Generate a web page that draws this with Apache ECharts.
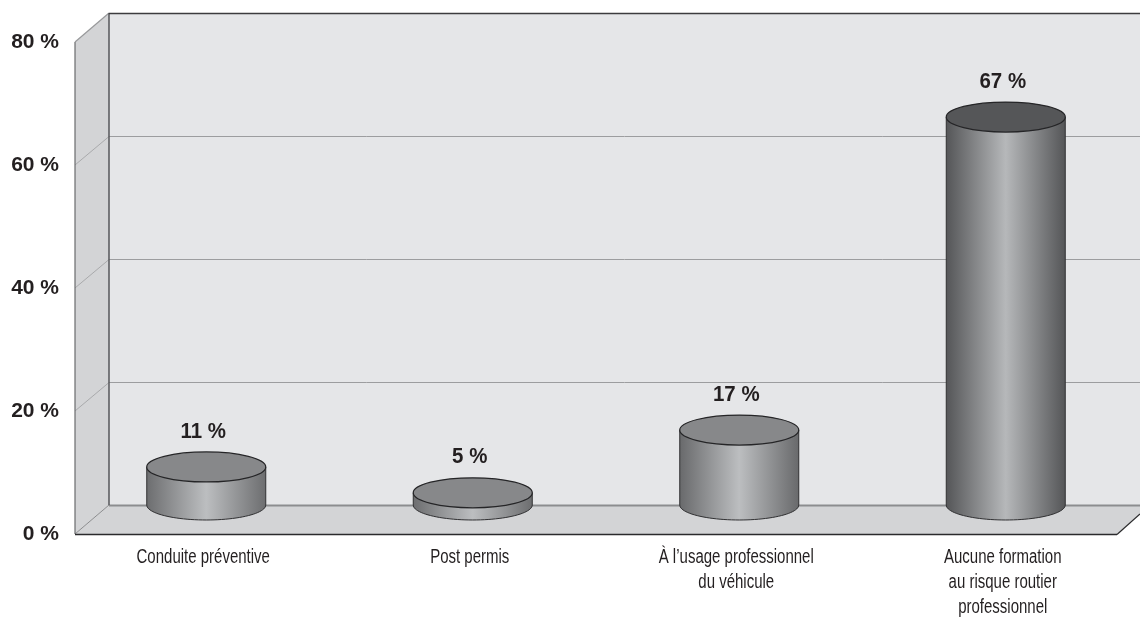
<!DOCTYPE html>
<html><head><meta charset="utf-8">
<style>html,body{margin:0;padding:0;background:#fff}#c{width:1140px;height:617px}</style>
<script src="https://cdn.jsdelivr.net/npm/echarts@6/dist/echarts.min.js"></script>
</head><body><div id="c"></div>
<script>
const categories = ['Conduite préventive','Post permis','À l’usage professionnel\ndu véhicule','Aucune formation\nau risque routier\nprofessionnel'];
const values = [11,5,17,67];
const cylinderTops = [10.9,6.7,16.9,67.8];
const yTicks = [0,20,40,60,80];
const topShades = ['#87888a','#87888a','#87888a','#555658'];
const edgeShades = ['#6c6d6f','#6c6d6f','#68696b','#545557'];
const centerShades = ['#bcbec0','#bcbec0','#bcbec0','#b6b8ba'];

const depthX = 34, depthY = -29, wallRight = 1140, floorFrontRight = 1117, frontLeft = 75;
const rx = 59.5, ry = 15;
const chart = echarts.init(document.getElementById('c'), null, {renderer:'canvas'});

function poly(points, fill, stroke, lw){
  return {type:'polygon', shape:{points}, style:{fill:fill||'none', stroke:stroke||'none', lineWidth:lw||0}};
}
function line(x1,y1,x2,y2,stroke,lw){
  return {type:'line', shape:{x1,y1,x2,y2}, style:{stroke, lineWidth:lw}};
}
function renderWalls(params, api){
  const y0 = api.coord([0,0])[1], yTop = api.coord([0,80])[1];
  const bx = frontLeft + depthX, by = y0 + depthY, byTop = yTop + depthY;
  const ch = [
    poly([[bx,byTop],[wallRight,byTop],[wallRight,by],[bx,by]],'#e5e6e8'),
    poly([[frontLeft,yTop],[bx,byTop],[bx,by],[frontLeft,y0]],'#d3d4d6'),
    poly([[frontLeft,y0],[bx,by],[wallRight,by],[wallRight,y0+depthY+9],[floorFrontRight,y0]],'#d3d4d6')
  ];
  yTicks.slice(1,-1).forEach(t=>{
    const y = api.coord([0,t])[1];
    ch.push(line(frontLeft,y,bx,y+depthY+0.5,'#a9aaac',1));
    ch.push(line(bx,y+depthY+0.5,wallRight,y+depthY+0.5,'#9c9d9f',1));
  });
  ch.push(line(bx,by+0.5,wallRight,by+0.5,'#8c8d8f',2));
  ch.push(line(frontLeft,y0,bx,by,'#8c8d8f',1));
  ch.push(line(frontLeft,yTop,frontLeft,y0,'#6a6b6d',1.2));
  ch.push(line(frontLeft,yTop,bx,byTop,'#98999b',1.2));
  ch.push(line(bx,byTop,bx,by,'#55565a',1.5));
  ch.push(line(bx,byTop+0.5,wallRight,byTop+0.5,'#3c3c3e',1.5));
  ch.push(line(frontLeft,y0+0.5,floorFrontRight,y0+0.5,'#2a2a2c',1.5));
  ch.push(line(floorFrontRight,y0+0.5,wallRight,y0+depthY+9,'#2a2a2c',1.2));
  return {type:'group', children:ch};
}
function renderCylinder(params, api){
  const i = params.dataIndex;
  const c = api.coord([api.value(0), api.value(2)]);
  const y0 = api.coord([api.value(0),0])[1];
  const cx = c[0], topY = c[1], baseY = y0 + depthY;
  const pts = [[cx-rx,topY]];
  for(let a=0;a<=48;a++){
    const t = Math.PI*a/48;
    pts.push([cx-rx*Math.cos(t), baseY+ry*Math.sin(t)]);
  }
  pts.push([cx+rx,topY]);
  const grad = new echarts.graphic.LinearGradient(0,0,1,0,[
    {offset:0,color:edgeShades[i]},{offset:0.5,color:centerShades[i]},{offset:1,color:edgeShades[i]}
  ]);
  return {type:'group', children:[
    {type:'polygon', shape:{points:pts}, style:{fill:grad, stroke:'#303032', lineWidth:1}},
    {type:'ellipse', shape:{cx,cy:topY,rx,ry}, style:{fill:topShades[i], stroke:'#252527', lineWidth:1.2}},
    {type:'text', x:cx-3, y:topY-35.5, scaleX:0.93, style:{text:api.value(1)+' %', fill:'#231f20',
      font:'bold 22px "Liberation Sans"', align:'center', verticalAlign:'middle'}},
    {type:'text', x:cx-3, y:y0+10.5, scaleX:0.75, style:{text:categories[i], fill:'#231f20',
      font:'20px "Liberation Sans"', lineHeight:25, align:'center', verticalAlign:'top'}}
  ]};
}
chart.setOption({
  animation:false,
  backgroundColor:'#fff',
  tooltip:{show:false},
  grid:{left:73,right:1,top:42,bottom:83,containLabel:false,outerBoundsMode:'none'},
  xAxis:{type:'category',data:categories,axisLine:{show:false},axisTick:{show:false},splitLine:{show:false},
    axisLabel:{show:false}},
  yAxis:{type:'value',min:0,max:80,interval:20,axisLine:{show:false},axisTick:{show:false},splitLine:{show:false},
    axisLabel:{margin:14,color:'#231f20',fontFamily:'"Liberation Sans"',fontWeight:'bold',fontSize:21,formatter:'{value} %'}},
  series:[
    {type:'custom',z:1,silent:true,clip:false,renderItem:renderWalls,data:[[0,0]],encode:{x:0,y:1}},
    {type:'custom',z:2,silent:true,clip:false,renderItem:renderCylinder,
      data:categories.map((n,i)=>[i,values[i],cylinderTops[i]]),encode:{x:0,y:1}}
  ]
});
</script></body></html>
